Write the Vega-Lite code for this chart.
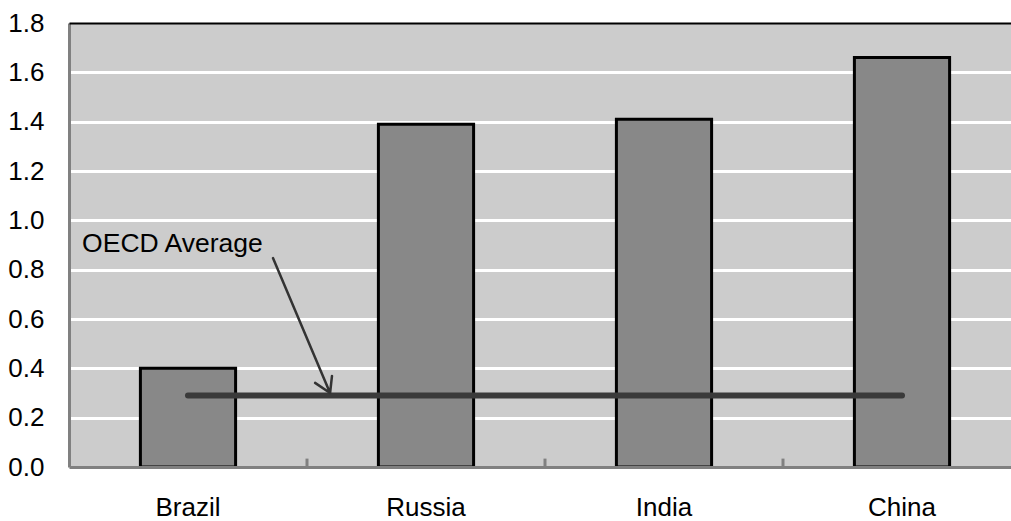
{
  "$schema": "https://vega.github.io/schema/vega-lite/v6.json",
  "width": 942,
  "height": 444,
  "autosize": {"type": "none"},
  "padding": {"left": 69, "top": 23, "right": 0, "bottom": 54},
  "background": "white",
  "config": {
    "view": {"fill": "#cccccc", "stroke": null},
    "font": "Liberation Sans"
  },
  "datasets": {
    "countries": [
      {"country": "Brazil", "value": 0.40},
      {"country": "Russia", "value": 1.39},
      {"country": "India", "value": 1.41},
      {"country": "China", "value": 1.66}
    ],
    "oecd": [
      {"start": "Brazil", "end": "China", "value": 0.29}
    ],
    "label": [
      {"text": "OECD Average", "x": 0.055, "y": 0.872}
    ],
    "separators": [
      {"x": 1, "y": 0, "y2": 0.034},
      {"x": 2, "y": 0, "y2": 0.034},
      {"x": 3, "y": 0, "y2": 0.034}
    ],
    "arrow": [
      {"order": 1, "x": 0.857, "y": 0.847},
      {"order": 2, "x": 1.097, "y": 0.300},
      {"order": 3, "x": 1.034, "y": 0.341},
      {"order": 4, "x": 1.097, "y": 0.300},
      {"order": 5, "x": 1.105, "y": 0.369}
    ]
  },
  "resolve": {"scale": {"x": "independent"}, "axis": {"x": "independent"}},
  "layer": [
    {
      "layer": [
        {
          "data": {"name": "countries"},
          "mark": {"type": "bar", "fill": "#888888", "stroke": "#000000", "strokeWidth": 3},
          "encoding": {
            "x": {
              "field": "country",
              "type": "nominal",
              "scale": {"domain": ["Brazil", "Russia", "India", "China"], "range": [0, 952], "paddingInner": 0.6, "paddingOuter": 0.3},
              "axis": {
                "title": null,
                "orient": "bottom",
                "zindex": 1,
                "domainColor": "#808080",
                "domainWidth": 3,
                "ticks": false,
                "labelFontSize": 26,
                "labelColor": "#000000",
                "labelAngle": 0,
                "labelBaseline": "alphabetic",
                "labelPadding": 48
              }
            },
            "y": {
              "field": "value",
              "type": "quantitative",
              "scale": {"domain": [0, 1.8], "nice": false},
              "axis": {
                "title": null,
                "values": [0, 0.2, 0.4, 0.6, 0.8, 1.0, 1.2, 1.4, 1.6, 1.8],
                "format": ".1f",
                "labelFontSize": 26,
                "labelColor": "#000000",
                "labelPadding": 25,
                "ticks": false,
                "domainColor": "#808080",
                "domainWidth": 3,
                "grid": true,
                "gridWidth": 3,
                "gridColor": {"condition": {"test": "datum.value <= 0.01 || datum.value >= 1.79", "value": "transparent"}, "value": "#ffffff"}
              }
            }
          }
        },
        {
          "data": {"name": "oecd"},
          "mark": {"type": "rule", "color": "#3a3a3a", "strokeWidth": 6, "strokeCap": "round"},
          "encoding": {
            "x": {"field": "start", "type": "nominal"},
            "x2": {"field": "end"},
            "y": {"field": "value", "type": "quantitative"}
          }
        }
      ]
    },
    {
      "layer": [
        {
          "data": {"name": "label"},
          "mark": {"type": "text", "align": "left", "baseline": "alphabetic", "fontSize": 26.5, "color": "#000000"},
          "encoding": {
            "x": {
              "field": "x",
              "type": "quantitative",
              "scale": {"domain": [0, 4], "range": [0, 952], "nice": false, "zero": false},
              "axis": {
                "orient": "top",
                "title": null,
                "labels": false,
                "ticks": false,
                "grid": false,
                "domainColor": "#000000",
                "domainWidth": 2,
                "zindex": 2
              }
            },
            "y": {"field": "y", "type": "quantitative"},
            "text": {"field": "text"}
          }
        },
        {
          "data": {"name": "separators"},
          "mark": {"type": "rule", "color": "#808080", "strokeWidth": 3},
          "encoding": {
            "x": {"field": "x", "type": "quantitative"},
            "y": {"field": "y", "type": "quantitative"},
            "y2": {"field": "y2"}
          }
        },
        {
          "data": {"name": "arrow"},
          "mark": {"type": "line", "color": "#333333", "strokeWidth": 2.5, "strokeCap": "round", "strokeJoin": "round"},
          "encoding": {
            "x": {"field": "x", "type": "quantitative"},
            "y": {"field": "y", "type": "quantitative"},
            "order": {"field": "order", "type": "quantitative"}
          }
        }
      ]
    }
  ]
}
